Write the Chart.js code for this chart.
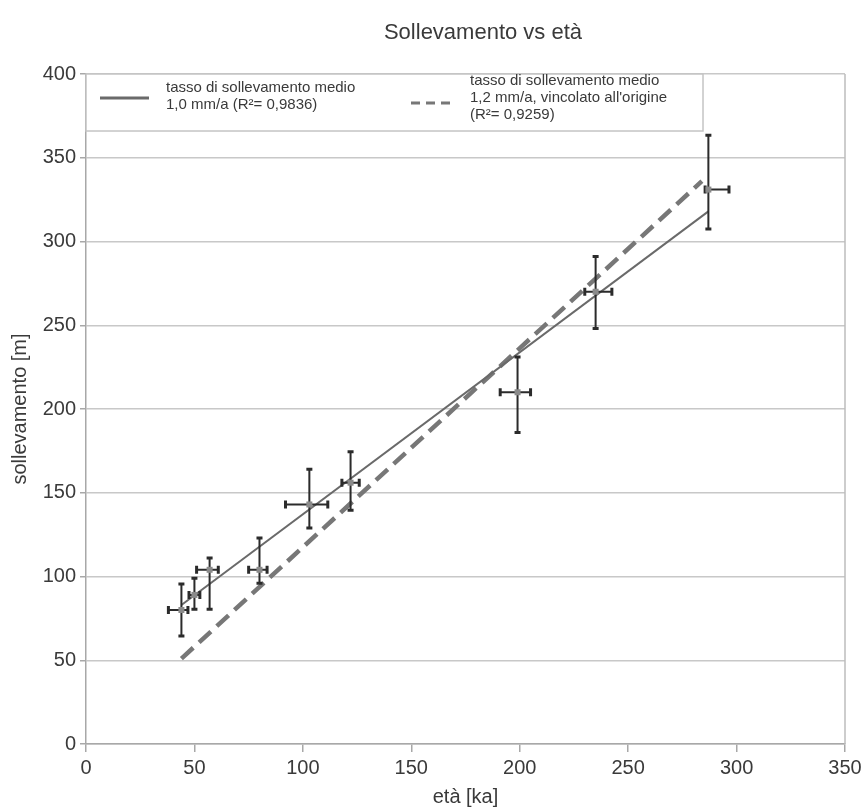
<!DOCTYPE html>
<html>
<head>
<meta charset="utf-8">
<script src="https://cdn.jsdelivr.net/npm/chart.js@4.4.1/dist/chart.umd.min.js"></script>
<style>
  html, body { margin: 0; padding: 0; background: #fff; }
  #wrap { width: 866px; height: 811px; }
</style>
</head>
<body>
<div id="wrap"><canvas id="chart" width="866" height="811"></canvas></div>
<script>
// ---- data ----
const ages       = [44, 50, 57, 80, 103, 122, 199, 235, 287];
const uplift     = [80, 89, 104, 104, 143, 156, 210, 270, 331];
const ageLow     = [38, 47.5, 51, 75, 92, 118, 191, 230, 285.5];
const ageHigh    = [47, 52.5, 61, 83.5, 111.5, 126, 205, 242.5, 296.5];
const upliftLow  = [64.5, 80.5, 80.5, 96, 129, 139.5, 186, 248, 307.5];
const upliftHigh = [95.5, 99, 111, 123, 164, 174.5, 231, 291, 363.5];

// regression lines (end points)
const fitX = [44, 287];
const fitY = [83, 318];
const originFitX = [44, 284];
const originFitY = [51, 336];

const titleText = 'Sollevamento vs età';
const xTitle = 'età [ka]';
const yTitle = 'sollevamento [m]';
const legendSolid = ['tasso di sollevamento medio', '1,0 mm/a (R²= 0,9836)'];
const legendDashed = ['tasso di sollevamento medio', '1,2 mm/a, vincolato all\'origine', '(R²= 0,9259)'];

const FONT = '"Liberation Sans", Arial, sans-serif';
const TEXT = '#3a3a3a';

function toPoints(xs, ys) {
    return xs.map((x, i) => ({ x: x, y: ys[i] }));
}

// error bars drawn through the chart scales
const errorBars = {
    id: 'errorBars',
    afterDatasetsDraw(chart) {
        const { ctx, scales: { x, y } } = chart;
        ctx.save();
        ctx.strokeStyle = '#2b2b2b';
        ctx.lineWidth = 2;
        const cap = 4;
        ages.forEach((a, i) => {
            const px = x.getPixelForValue(a);
            const py = y.getPixelForValue(uplift[i]);
            const yT = y.getPixelForValue(upliftHigh[i]);
            const yB = y.getPixelForValue(upliftLow[i]);
            const xL = x.getPixelForValue(ageLow[i]);
            const xR = x.getPixelForValue(ageHigh[i]);
            ctx.beginPath();
            ctx.moveTo(px, yT); ctx.lineTo(px, yB);
            ctx.moveTo(xL, py); ctx.lineTo(xR, py);
            ctx.stroke();
            ctx.lineWidth = 3;
            ctx.beginPath();
            ctx.moveTo(px - 3, yT); ctx.lineTo(px + 3, yT);
            ctx.moveTo(px - 3, yB); ctx.lineTo(px + 3, yB);
            ctx.moveTo(xL, py - cap); ctx.lineTo(xL, py + cap);
            ctx.moveTo(xR, py - cap); ctx.lineTo(xR, py + cap);
            ctx.stroke();
            ctx.lineWidth = 2;
            ctx.fillStyle = '#8a8a8a';
            ctx.fillRect(px - 3, py - 3, 6, 6);
        });
        ctx.restore();
    }
};

// title, right frame and boxed legend
const decorations = {
    id: 'decorations',
    afterDraw(chart) {
        const { ctx, chartArea } = chart;
        ctx.save();
        // right frame line
        ctx.strokeStyle = '#bdbdbd';
        ctx.lineWidth = 1.5;
        ctx.beginPath();
        ctx.moveTo(chartArea.right, chartArea.top);
        ctx.lineTo(chartArea.right, chartArea.bottom);
        ctx.stroke();

        // title
        ctx.fillStyle = TEXT;
        ctx.font = '22px ' + FONT;
        ctx.textAlign = 'center';
        ctx.textBaseline = 'middle';
        ctx.fillText(titleText, 483, 33);

        // legend box
        const bx = chartArea.left, by = chartArea.top, bw = 617, bh = 57;
        ctx.fillStyle = '#fff';
        ctx.fillRect(bx, by, bw, bh);
        ctx.strokeStyle = '#c4c4c4';
        ctx.lineWidth = 1.5;
        ctx.strokeRect(bx, by, bw, bh);

        // solid sample
        ctx.strokeStyle = '#6a6a6a';
        ctx.lineWidth = 3;
        ctx.beginPath();
        ctx.moveTo(100, 98); ctx.lineTo(149, 98);
        ctx.stroke();
        // dashed sample
        ctx.strokeStyle = '#777';
        ctx.lineWidth = 3;
        ctx.setLineDash([9, 6]);
        ctx.beginPath();
        ctx.moveTo(411, 103); ctx.lineTo(455, 103);
        ctx.stroke();
        ctx.setLineDash([]);

        ctx.fillStyle = TEXT;
        ctx.font = '15px ' + FONT;
        ctx.textAlign = 'left';
        legendSolid.forEach((t, i) => ctx.fillText(t, 166, 88 + i * 17));
        legendDashed.forEach((t, i) => ctx.fillText(t, 470, 81 + i * 17));
        ctx.restore();
    }
};

const ctx = document.getElementById('chart').getContext('2d');
new Chart(ctx, {
    type: 'scatter',
    data: {
        datasets: [
            {
                label: 'fit',
                data: toPoints(fitX, fitY),
                showLine: true,
                borderColor: '#6a6a6a',
                borderWidth: 2,
                pointRadius: 0
            },
            {
                label: 'origin fit',
                data: toPoints(originFitX, originFitY),
                showLine: true,
                borderColor: '#777',
                borderWidth: 4.5,
                borderDash: [16, 8],
                pointRadius: 0
            }
        ]
    },
    options: {
        responsive: false,
        animation: false,
        devicePixelRatio: 1,
        layout: { padding: { top: 74, right: 21, left: 0, bottom: 0 } },
        plugins: {
            legend: { display: false },
            title: { display: false },
            tooltip: { enabled: false }
        },
        scales: {
            x: {
                type: 'linear',
                min: 0,
                max: 350,
                afterFit: s => { s.height = 67; },
                ticks: {
                    stepSize: 50,
                    color: TEXT,
                    padding: 4,
                    font: { family: FONT, size: 20 }
                },
                grid: {
                    drawOnChartArea: false,
                    drawTicks: true,
                    tickLength: 8,
                    color: '#a8a8a8',
                    lineWidth: 1.5
                },
                border: { color: '#a8a8a8', width: 1.5 },
                title: {
                    display: true,
                    text: xTitle,
                    color: TEXT,
                    font: { family: FONT, size: 20 },
                    padding: { top: 0, bottom: 2 }
                }
            },
            y: {
                min: 0,
                max: 400,
                afterFit: s => { s.width = 86; },
                ticks: {
                    stepSize: 50,
                    color: TEXT,
                    padding: 4,
                    font: { family: FONT, size: 20 }
                },
                grid: {
                    color: '#c8c8c8',
                    lineWidth: 1.5,
                    tickLength: 6,
                    tickColor: '#a8a8a8'
                },
                border: { color: '#a8a8a8', width: 1.5 },
                title: {
                    display: true,
                    text: yTitle,
                    color: TEXT,
                    font: { family: FONT, size: 20 },
                    padding: { top: 8, bottom: 0 }
                }
            }
        }
    },
    plugins: [errorBars, decorations]
});
</script>
</body>
</html>
